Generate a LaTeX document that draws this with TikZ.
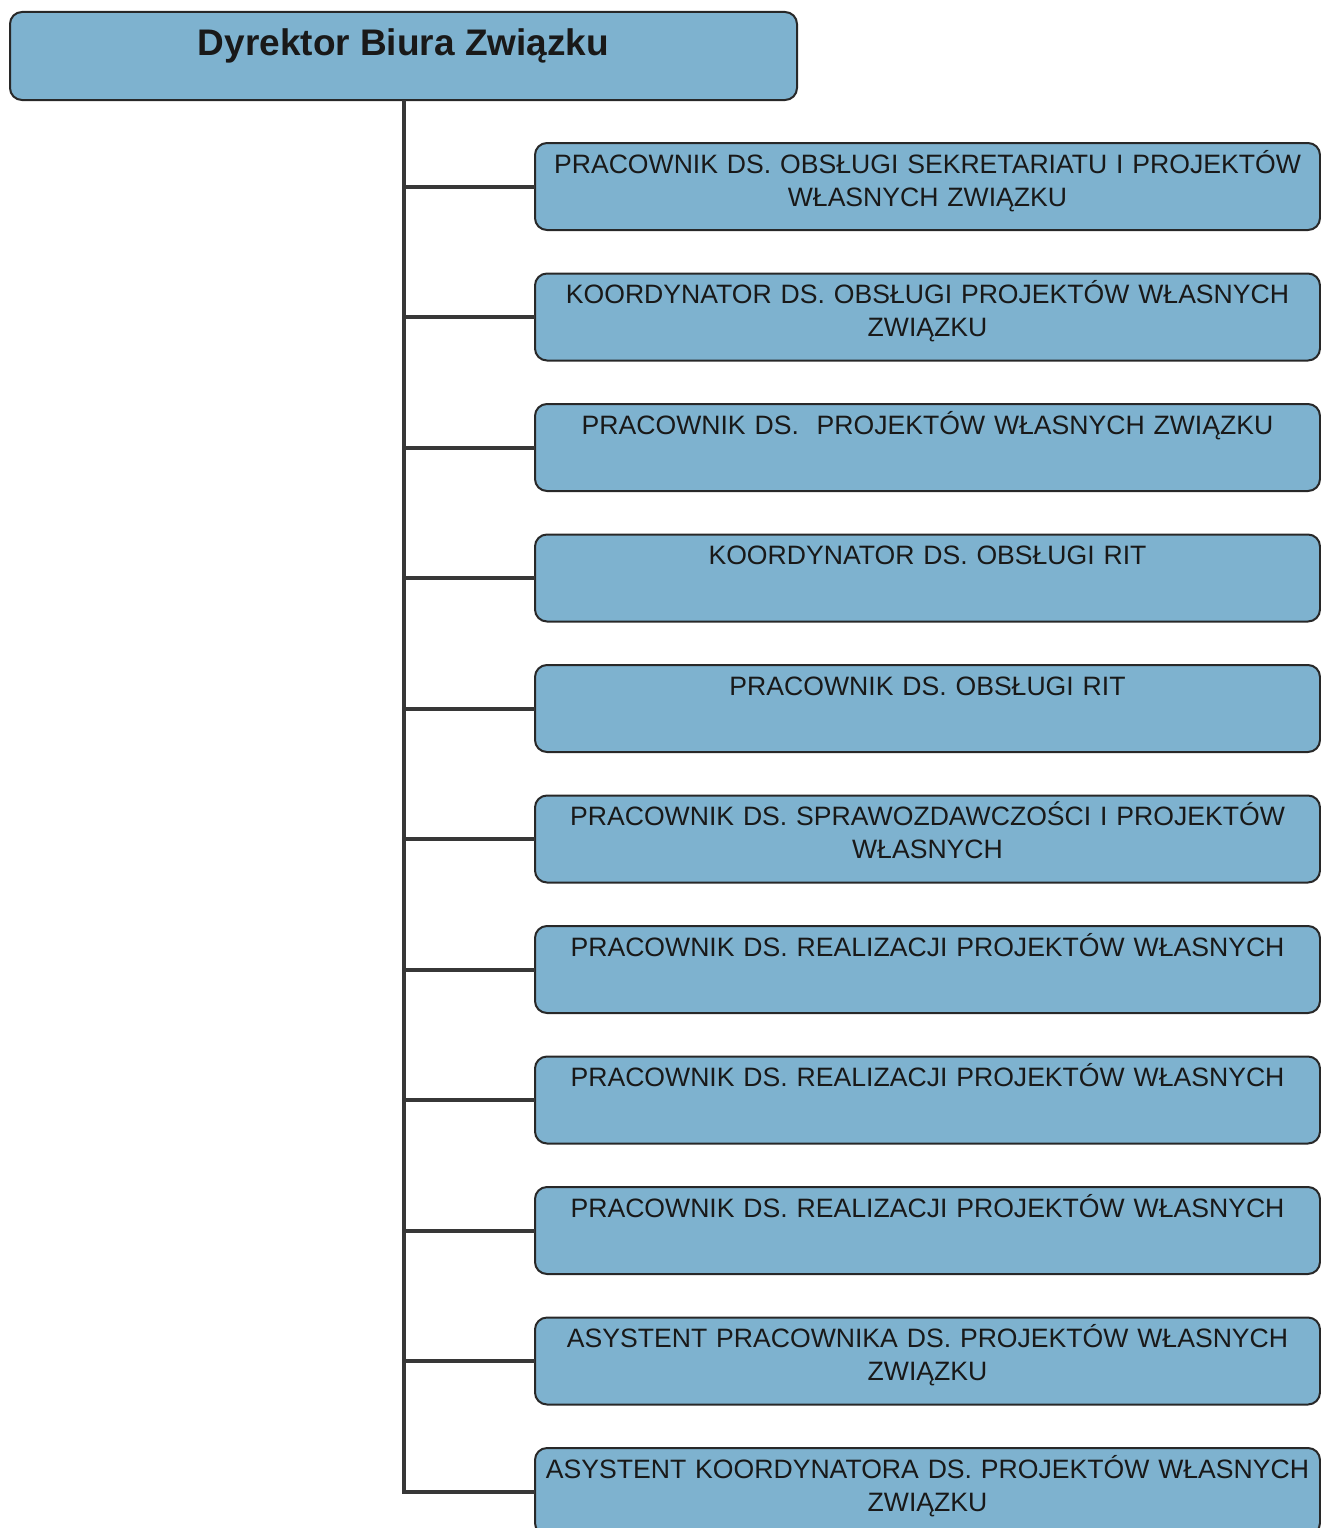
\documentclass[tikz,border=0pt]{standalone}
\usepackage{fontspec}
\setmainfont{Liberation Sans}
\usetikzlibrary{positioning}
\definecolor{boxblue}{RGB}{126,178,207}
\definecolor{boxline}{RGB}{40,40,40}
\definecolor{connline}{RGB}{55,55,55}

\begin{document}
\begin{tikzpicture}[node distance=43.5pt,
  head/.style={draw=boxline,line width=2pt,fill=boxblue,rounded corners=12pt,minimum width=787pt,inner xsep=0pt,inner ysep=0pt,outer sep=0pt,text height=44pt,text depth=44pt,font=\fontsize{37}{44}\selectfont\bfseries,text=black!90},
  post/.style={draw=boxline,line width=2pt,fill=boxblue,rounded corners=12pt,text width=775pt,inner xsep=5pt,inner ysep=0pt,outer sep=0pt,align=center,text height=30pt,text depth=57pt,font=\fontsize{26.6}{33}\selectfont,text=black!90},
  conn/.style={draw=connline,line width=4pt}]
\useasboundingbox (0,0) rectangle (1321pt,-1528pt);

\node[head,anchor=north west] (dyr) at (10pt,-12pt) {Dyrektor Biura Związku};

\node[post,anchor=north west] (p1) at (535pt,-143pt) {PRACOWNIK DS. OBSŁUGI SEKRETARIATU I PROJEKTÓW\\WŁASNYCH ZWIĄZKU};
\node[post] (p2) [below=of p1] {KOORDYNATOR DS. OBSŁUGI PROJEKTÓW WŁASNYCH\\ZWIĄZKU};
\node[post] (p3) [below=of p2] {PRACOWNIK DS.~~PROJEKTÓW WŁASNYCH ZWIĄZKU};
\node[post] (p4) [below=of p3] {KOORDYNATOR DS. OBSŁUGI RIT};
\node[post] (p5) [below=of p4] {PRACOWNIK DS. OBSŁUGI RIT};
\node[post] (p6) [below=of p5] {PRACOWNIK DS. SPRAWOZDAWCZOŚCI I PROJEKTÓW\\WŁASNYCH};
\node[post] (p7) [below=of p6] {PRACOWNIK DS. REALIZACJI PROJEKTÓW WŁASNYCH};
\node[post] (p8) [below=of p7] {PRACOWNIK DS. REALIZACJI PROJEKTÓW WŁASNYCH};
\node[post] (p9) [below=of p8] {PRACOWNIK DS. REALIZACJI PROJEKTÓW WŁASNYCH};
\node[post] (p10) [below=of p9] {ASYSTENT PRACOWNIKA DS. PROJEKTÓW WŁASNYCH\\ZWIĄZKU};
\node[post] (p11) [below=of p10] {ASYSTENT KOORDYNATORA DS. PROJEKTÓW WŁASNYCH\\ZWIĄZKU};

% trunk and branches
\draw[conn] (dyr.south) |- (p11.west);
\draw[conn] (dyr.south |- p1.west) -- (p1.west);
\draw[conn] (dyr.south |- p2.west) -- (p2.west);
\draw[conn] (dyr.south |- p3.west) -- (p3.west);
\draw[conn] (dyr.south |- p4.west) -- (p4.west);
\draw[conn] (dyr.south |- p5.west) -- (p5.west);
\draw[conn] (dyr.south |- p6.west) -- (p6.west);
\draw[conn] (dyr.south |- p7.west) -- (p7.west);
\draw[conn] (dyr.south |- p8.west) -- (p8.west);
\draw[conn] (dyr.south |- p9.west) -- (p9.west);
\draw[conn] (dyr.south |- p10.west) -- (p10.west);
\end{tikzpicture}
\end{document}
